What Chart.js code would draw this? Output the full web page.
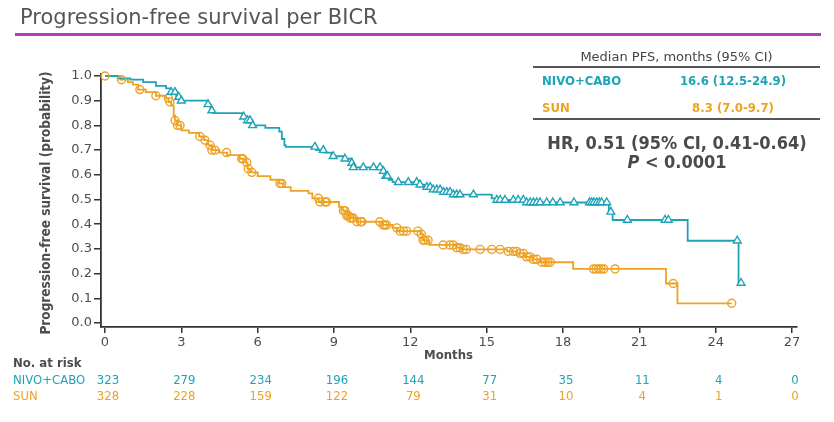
<!DOCTYPE html>
<html>
<head>
<meta charset="utf-8">
<script src="https://cdn.jsdelivr.net/npm/chart.js"></script>
<style>
  body { margin: 0; background: #fff; font-family: "DejaVu Sans", sans-serif; }
  #wrap { position: relative; width: 834px; height: 422px; overflow: hidden; }
  canvas { position: absolute; left: 0; top: 0; }
  .t { position: absolute; white-space: nowrap; line-height: 16px; }
  .b { font-family: "DejaVu Sans Condensed", "DejaVu Sans", sans-serif; font-weight: bold; }
  .rule { position: absolute; height: 1.5px; background: #555; }
</style>
</head>
<body>
<div id="wrap">
  <canvas id="km" width="834" height="422"></canvas>
  <div class="t" style="left:20px;top:5px;font-size:21px;line-height:24px;color:#555;">Progression-free survival per BICR</div>
  <div style="position:absolute;left:15px;top:33px;width:806px;height:3px;background:#b33db6;"></div>

  <div class="t" style="left:533px;width:287px;top:49px;text-align:center;font-size:13px;color:#444;">Median PFS, months (95% CI)</div>
  <div class="rule" style="left:533px;width:287px;top:66px;"></div>
  <div class="t b" style="left:542px;top:73px;font-size:13px;color:#1ea3b7;">NIVO+CABO</div>
  <div class="t b" style="left:660px;width:146px;top:73px;text-align:center;font-size:13px;color:#1ea3b7;">16.6 (12.5-24.9)</div>
  <div class="t b" style="left:542px;top:100px;font-size:13px;color:#eea224;">SUN</div>
  <div class="t b" style="left:660px;width:146px;top:100px;text-align:center;font-size:13px;color:#eea224;">8.3 (7.0-9.7)</div>
  <div class="rule" style="left:533px;width:287px;top:118px;"></div>
  <div class="t b" style="left:533px;width:288px;top:133px;line-height:20px;text-align:center;font-size:18px;color:#4a4a4a;">HR, 0.51 (95% CI, 0.41-0.64)</div>
  <div class="t b" style="left:533px;width:288px;top:152px;line-height:20px;text-align:center;font-size:18px;color:#4a4a4a;"><i>P</i> &lt; 0.0001</div>
</div>

<script>
// Kaplan-Meier steps: [months, survival]
const nivoSteps = [
  [0, 1.0], [0.5, 0.99], [1.0, 0.985], [1.5, 0.975], [2.0, 0.96], [2.4, 0.95],
  [2.6, 0.935], [2.8, 0.915], [2.95, 0.90], [4.05, 0.885], [4.15, 0.86], [4.25, 0.85],
  [5.4, 0.835], [5.55, 0.82], [5.8, 0.80], [6.3, 0.79], [6.85, 0.775], [6.95, 0.745],
  [7.05, 0.72], [7.1, 0.713], [8.3, 0.70], [8.6, 0.69], [8.9, 0.675], [9.4, 0.665],
  [9.7, 0.648], [9.75, 0.63], [10.9, 0.615], [11.0, 0.595], [11.15, 0.58], [11.3, 0.57],
  [12.3, 0.56], [12.55, 0.55], [12.85, 0.54], [13.2, 0.53], [13.6, 0.52], [15.2, 0.505],
  [15.35, 0.498], [16.5, 0.488], [19.8, 0.45], [19.95, 0.417], [22.9, 0.333],
  [24.9, 0.162], [25.0, 0.162]
];
const sunSteps = [
  [0, 1.0], [0.6, 0.985], [0.9, 0.975], [1.1, 0.965], [1.3, 0.945], [1.6, 0.935],
  [2.0, 0.92], [2.4, 0.91], [2.5, 0.895], [2.6, 0.88], [2.7, 0.84], [2.75, 0.82],
  [2.85, 0.80], [3.0, 0.78], [3.3, 0.77], [3.7, 0.755], [3.9, 0.74], [4.05, 0.72],
  [4.2, 0.70], [4.5, 0.69], [4.8, 0.68], [5.3, 0.665], [5.45, 0.65], [5.6, 0.625],
  [5.7, 0.61], [6.0, 0.595], [6.5, 0.58], [6.85, 0.565], [7.0, 0.55], [7.3, 0.535],
  [8.0, 0.525], [8.15, 0.505], [8.4, 0.49], [9.2, 0.47], [9.35, 0.455], [9.5, 0.435],
  [9.6, 0.425], [9.9, 0.41], [10.9, 0.397], [11.3, 0.385], [11.5, 0.372], [12.4, 0.36],
  [12.5, 0.335], [12.75, 0.316], [13.8, 0.305], [14.0, 0.298], [15.8, 0.29], [16.2, 0.282],
  [16.5, 0.268], [16.8, 0.258], [17.1, 0.246], [18.4, 0.219], [22.05, 0.16], [22.5, 0.08],
  [24.63, 0.08]
];

// censoring times (months)
const nivoCensored = [
  2.6, 2.75, 2.9, 3.0, 4.05, 4.2, 5.45, 5.6, 5.7, 5.8, 8.25, 8.58, 8.97, 9.43, 9.7, 9.76,
  10.15, 10.55, 10.81, 10.94, 11.04, 11.1, 11.53, 11.92, 12.25, 12.38, 12.65, 12.78, 12.9,
  13.04, 13.17, 13.3, 13.43, 13.56, 13.69, 13.82, 13.95, 14.48, 15.4, 15.53, 15.72, 16.05,
  16.24, 16.44, 16.57, 16.71, 16.84, 16.97, 17.1, 17.36, 17.6, 17.89, 18.43, 19.04, 19.13,
  19.22, 19.33, 19.43, 19.52, 19.72, 19.88, 20.53, 22.01, 22.14, 24.85, 25.0
];
const sunCensored = [
  0.0, 0.65, 1.37, 2.0, 2.49, 2.55, 2.75, 2.85, 2.95, 3.73, 3.93, 4.13, 4.2, 4.32, 4.78,
  5.37, 5.42, 5.57, 5.63, 5.77, 6.88, 6.95, 8.39, 8.45, 8.65, 8.71, 9.37, 9.43, 9.5, 9.56,
  9.63, 9.7, 9.76, 9.9, 10.05, 10.1, 10.8, 10.93, 11.0, 11.07, 11.47, 11.6, 11.73, 11.86,
  12.3, 12.43, 12.5, 12.57, 12.7, 13.29, 13.55, 13.69, 13.82, 13.95, 14.08, 14.2, 14.74,
  15.2, 15.53, 15.85, 16.05, 16.18, 16.31, 16.44, 16.57, 16.7, 16.83, 16.97, 17.17, 17.3,
  17.4, 17.5, 19.2, 19.3, 19.4, 19.5, 19.6, 20.05, 22.33, 24.63
];

const xTicks = [0, 3, 6, 9, 12, 15, 18, 21, 24, 27];
const yTicks = [0, 0.1, 0.2, 0.3, 0.4, 0.5, 0.6, 0.7, 0.8, 0.9, 1.0];
const nivoAtRisk = [323, 279, 234, 196, 144, 77, 35, 11, 4, 0];
const sunAtRisk = [328, 228, 159, 122, 79, 31, 10, 4, 1, 0];

const teal = '#1ea3b7';
const orange = '#eea224';
const gray = '#4d4d4d';
const narrow = '"DejaVu Sans Condensed", "DejaVu Sans"';

// survival value of a step curve at time t (for placing censor marks)
function survivalAt(steps, t) {
  let s = steps[0][1];
  steps.forEach(p => { if (p[0] <= t) s = p[1]; });
  return s;
}

const toPts = steps => steps.map(p => ({ x: p[0], y: p[1] }));
const censorPts = (steps, times) => times.map(t => ({ x: t, y: survivalAt(steps, t) }));

const extras = {
  id: 'extras',
  afterDraw(chart) {
    const ctx = chart.ctx;
    const xs = chart.scales.x;
    ctx.save();
    ctx.fillStyle = gray;
    ctx.textBaseline = 'middle';
    ctx.font = 'bold 13px ' + narrow;
    ctx.textAlign = 'center';
    ctx.fillText('Months', xs.getPixelForValue(13.5), 356);

    ctx.save();
    ctx.translate(46, 203);
    ctx.rotate(-Math.PI / 2);
    ctx.font = 'bold 13.5px ' + narrow;
    ctx.fillText('Progression-free survival (probability)', 0, 0);
    ctx.restore();

    ctx.textAlign = 'left';
    ctx.fillText('No. at risk', 13, 364);
    ctx.font = '13px ' + narrow;
    ctx.fillStyle = teal;
    ctx.fillText('NIVO+CABO', 13, 381);
    ctx.fillStyle = orange;
    ctx.fillText('SUN', 13, 397);

    ctx.textAlign = 'center';
    xTicks.forEach((t, i) => {
      const px = xs.getPixelForValue(t) + 3;
      ctx.fillStyle = teal;
      ctx.fillText(nivoAtRisk[i], px, 381);
      ctx.fillStyle = orange;
      ctx.fillText(sunAtRisk[i], px, 397);
    });
    ctx.restore();
  }
};

Chart.defaults.font.family = '"DejaVu Sans"';

new Chart(document.getElementById('km'), {
  type: 'line',
  data: {
    datasets: [
      { data: censorPts(nivoSteps, nivoCensored), showLine: false, pointStyle: 'triangle',
        pointRadius: 4.5, pointBorderWidth: 1.4, borderColor: teal, backgroundColor: '#fff',
        order: 0, clip: false },
      { data: censorPts(sunSteps, sunCensored), showLine: false, pointStyle: 'circle',
        pointRadius: 4, pointBorderWidth: 1.4, borderColor: orange, backgroundColor: 'rgba(255,255,255,0)',
        order: 0, clip: false },
      { data: toPts(nivoSteps), stepped: 'before', borderColor: teal, borderWidth: 1.8,
        pointRadius: 0, fill: false, order: 1, clip: false },
      { data: toPts(sunSteps), stepped: 'before', borderColor: orange, borderWidth: 1.8,
        pointRadius: 0, fill: false, order: 1, clip: false }
    ]
  },
  options: {
    responsive: false,
    animation: false,
    devicePixelRatio: 1,
    layout: { padding: { left: 0, right: 37, top: 74, bottom: 0 } },
    plugins: { legend: { display: false }, tooltip: { enabled: false } },
    scales: {
      x: {
        type: 'linear',
        min: -0.157,
        max: 27.197,
        afterBuildTicks: s => { s.ticks = xTicks.map(v => ({ value: v })); },
        afterFit: s => { s.height = 95; },
        ticks: { color: gray, font: { size: 13 }, padding: 2, maxRotation: 0, autoSkip: false },
        grid: { drawOnChartArea: false, drawTicks: true, tickLength: 6, color: '#333', lineWidth: 1.5 },
        border: { display: true, color: '#333', width: 1.8 }
      },
      y: {
        min: -0.016,
        max: 1.008,
        afterBuildTicks: s => { s.ticks = yTicks.map(v => ({ value: v })); },
        afterFit: s => { s.width = 101; },
        ticks: { color: gray, font: { size: 13 }, padding: 2, callback: v => v.toFixed(1) },
        grid: { drawOnChartArea: false, drawTicks: true, tickLength: 7, color: '#333', lineWidth: 1.5 },
        border: { display: true, color: '#333', width: 1.8 }
      }
    }
  },
  plugins: [extras]
});
</script>
</body>
</html>
